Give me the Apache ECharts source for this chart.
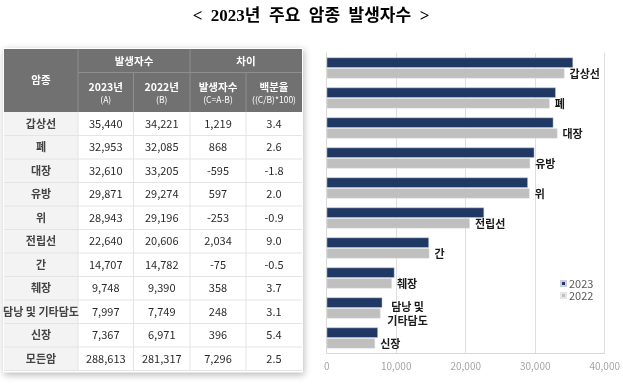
<!DOCTYPE html>
<html><head><meta charset="utf-8">
<script src="https://cdn.jsdelivr.net/npm/echarts@6/dist/echarts.min.js"></script>
<style>html,body{margin:0;padding:0;background:#fff}#c{width:623px;height:384px}</style>
</head><body><div id="c"></div>
<script>
// ---- data ----
const titleText = '<  2023년  주요  암종  발생자수  >';
const categories = ['갑상선','폐','대장','유방','위','전립선','간','췌장','담낭 및 기타담도','신장'];
const chartLabels = ['갑상선','폐','대장','유방','위','전립선','간','췌장','담낭 및\n기타담도','신장'];
const cases2023 = [35440,32953,32610,29871,28943,22640,14707,9748,7997,7367];
const cases2022 = [34221,32085,33205,29274,29196,20606,14782,9390,7749,6971];
const diffC = [1219,868,-595,597,-253,2034,-75,358,248,396];
const pctC = [3.4,2.6,-1.8,2.0,-0.9,9.0,-0.5,3.7,3.1,5.4];
const totalRow = ['모든암', 288613, 281317, 7296, 2.5];
const seriesNames = ['2023','2022'];
const xTicks = [0,10000,20000,30000,40000];

// ---- layout ----
const FONT = '"Noto Sans CJK KR", "Noto Sans", sans-serif';
const colX = [4, 78, 133.5, 190, 246, 302];
const hTop = 49, hMid = 72.5, hBot = 112, rowH = 23.5;
const fmt = v => v.toLocaleString('en-US');
const fmtP = v => v.toFixed(1);

const rows = categories.map((c,i)=>[c, fmt(cases2023[i]), fmt(cases2022[i]), fmt(diffC[i]), fmtP(pctC[i])]);
rows.push([totalRow[0], fmt(totalRow[1]), fmt(totalRow[2]), fmt(totalRow[3]), fmtP(totalRow[4])]);
const tBot = hBot + rowH*rows.length;

const g = [];
g.push({type:'rect', shape:{x:colX[0]-1, y:hTop-1, width:colX[5]-colX[0]+2, height:tBot-hTop+3},
  style:{fill:'#fff', shadowBlur:7, shadowColor:'rgba(0,0,0,0.28)', shadowOffsetX:1, shadowOffsetY:2}, z:1});
g.push({type:'rect', shape:{x:colX[0], y:hTop, width:colX[5]-colX[0], height:hBot-hTop}, style:{fill:'#717171'}, z:2});
g.push({type:'rect', shape:{x:colX[0], y:hBot, width:colX[1]-colX[0], height:tBot-hBot}, style:{fill:'#f3f3f3'}, z:2});
const line = (x1,y1,x2,y2,c)=>g.push({type:'line', shape:{x1,y1,x2,y2}, style:{stroke:c, lineWidth:1}, z:3});
const hl = '#8e8e8e';
line(colX[1],hTop,colX[1],hBot,hl);
line(colX[3],hTop,colX[3],hBot,hl);
line(colX[2],hMid,colX[2],hBot,hl);
line(colX[4],hMid,colX[4],hBot,hl);
line(colX[1],hMid,colX[5],hMid,hl);
const dl = '#e4e4e4';
for (let r=1;r<=rows.length;r++) line(colX[0], hBot+rowH*r, colX[5], hBot+rowH*r, dl);
for (let c=1;c<5;c++) line(colX[c], hBot, colX[c], tBot, dl);
const txt = (t,x,y,size,color,weight)=>g.push({type:'text', z:4, style:{text:t, x, y, align:'center', verticalAlign:'middle',
  fontSize:size, fontFamily:FONT, fontWeight:weight||'normal', fill:color}});
const W='#ffffff';
txt('암종', (colX[0]+colX[1])/2, (hTop+hBot)/2, 10.5, W, 'bold');
txt('발생자수', (colX[1]+colX[3])/2, (hTop+hMid)/2, 10.5, W, 'bold');
txt('차이', (colX[3]+colX[5])/2, (hTop+hMid)/2, 10.5, W, 'bold');
const sub = [['2023년','(A)'],['2022년','(B)'],['발생자수','(C=A-B)'],['백분율','((C/B)*100)']];
sub.forEach((s,i)=>{
  const cx=(colX[i+1]+colX[i+2])/2;
  txt(s[0], cx, 87, 10.5, W, 'bold');
  txt(s[1], cx, 100, 8.5, W, 'normal');
});
rows.forEach((r,ri)=>{
  const cy = hBot + rowH*ri + rowH/2;
  r.forEach((v,ci)=>{
    txt(v, (colX[ci]+colX[ci+1])/2, cy, 11, ci===0?'#444':'#2b2b2b', ci===0?'bold':'normal');
  });
});
g.push({type:'text', z:4, style:{text:titleText, x:311, y:17, align:'center', verticalAlign:'middle',
  fontSize:17, fontWeight:'bold', fontFamily:'"Liberation Serif", "Noto Sans CJK KR", serif', fill:'#000'}});

const chart = echarts.init(document.getElementById('c'));
chart.setOption({
  animation:false,
  textStyle:{fontFamily:FONT},
  graphic: g,
  legend:{data:seriesNames, orient:'vertical', left:555, top:273, icon:'rect', itemWidth:5, itemHeight:5, itemGap:1,
    textStyle:{fontSize:11, color:'#595959', padding:[0,0,0,-2]}},
  grid:{left:326.7, right:15.7, top:53, bottom:31},
  xAxis:{type:'value', min:xTicks[0], max:xTicks[xTicks.length-1], interval:xTicks[1]-xTicks[0],
    axisLine:{show:true, lineStyle:{color:'#d9d9d9'}}, axisTick:{show:false},
    axisLabel:{color:'#a6a6a6', fontSize:10, margin:8, formatter:v=>v.toLocaleString('en-US')},
    splitLine:{lineStyle:{color:'#dedede'}}},
  yAxis:{type:'category', data:categories, inverse:true, axisTick:{show:false}, axisLabel:{show:false},
    axisLine:{lineStyle:{color:'#d9d9d9'}}},
  series:[
    {name:seriesNames[0], type:'bar', data:cases2023, barCategoryGap:'30%', barGap:'5%',
     itemStyle:{color:'#203864', borderColor:'#c9cfdc', borderWidth:0.5}},
    {name:seriesNames[1], type:'bar', data:cases2022.map((v,i)=>{
        const item={value:v};
        if (chartLabels[i].indexOf('\n')>=0) item.label={align:'center', offset:[22,0]};
        return item;}),
     itemStyle:{color:'#bfbfbf', borderColor:'#e6e6e6', borderWidth:0.5},
     label:{show:true, position:'right', distance:5, fontSize:11, fontWeight:'bold', color:'#1a1a1a', lineHeight:14,
       formatter:p=>chartLabels[p.dataIndex]}}
  ]
});
</script></body></html>
